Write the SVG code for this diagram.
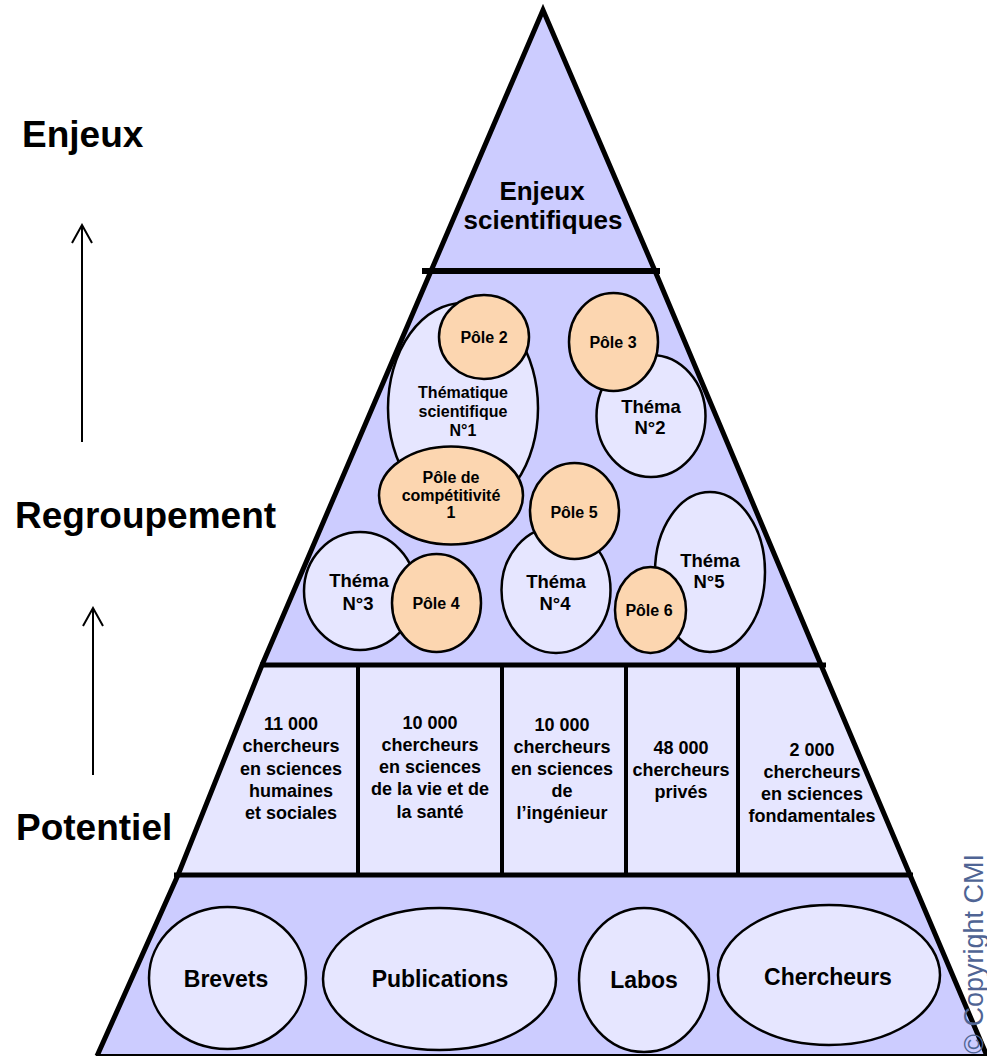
<svg xmlns="http://www.w3.org/2000/svg" width="987" height="1056" viewBox="0 0 987 1056">
  <defs>
    <style>
      text { font-family: "Liberation Sans", Arial, sans-serif; font-weight: bold; fill: #000; }
      .band { fill: #CCCCFF; }
      .cols { fill: #E6E6FF; }
      .edge { fill: none; stroke: #000; stroke-width: 5; stroke-linejoin: miter; stroke-miterlimit: 10; }
      .rule { stroke: #000; stroke-width: 5; }
      .divider { stroke: #000; stroke-width: 4; }
      .theme { fill: #E6E6FF; stroke: #000; stroke-width: 2.5; }
      .pole { fill: #FCD6B0; stroke: #000; stroke-width: 2.5; }
      .level { font-size: 37px; }
      .top { font-size: 26px; text-anchor: middle; }
      .small { font-size: 16px; text-anchor: middle; }
      .theme-t { font-size: 18.5px; text-anchor: middle; }
      .col { font-size: 18px; text-anchor: middle; }
      .asset-t { font-size: 23px; text-anchor: middle; }
      .copy { font-weight: normal; font-size: 27px; fill: #4F6494; }
      .arrow { stroke: #000; stroke-width: 2; fill: none; }
    </style>
    <marker id="open-head" viewBox="-20 -12 22 24" refX="0" refY="0" markerWidth="22" markerHeight="24" markerUnits="userSpaceOnUse" orient="auto">
      <path d="M-18,-10 L0,0 L-18,10" fill="none" stroke="#000" stroke-width="2"/>
    </marker>
  </defs>

  <rect width="987" height="1056" fill="#fff"/>

  <!-- pyramid body -->
  <g id="pyramid">
    <polygon class="band" points="543,10 431,271 262,665 178,875 97,1056 987,1056 910,875 821,665 655,271"/>
    <polygon class="cols" points="262,665 823,665 910,875 178,875"/>
    <polyline class="edge" points="97,1056 178,875 262,665 431,271 543,10 655,271 821,665 910,875 987,1056"/>
    <line x1="96" y1="1055" x2="987" y2="1055" stroke="#000" stroke-width="2"/>
    <line class="rule" x1="422" y1="271" x2="660" y2="271" style="stroke-width:6"/>
    <line class="rule" x1="260" y1="665" x2="826" y2="665"/>
    <line class="rule" x1="174" y1="875" x2="913" y2="875"/>
    <line class="divider" x1="358" y1="665" x2="358" y2="875"/>
    <line class="divider" x1="502" y1="665" x2="502" y2="875"/>
    <line class="divider" x1="626" y1="665" x2="626" y2="875"/>
    <line class="divider" x1="738" y1="665" x2="738" y2="875"/>
  </g>

  <!-- side scale -->
  <g id="level-enjeux"><text class="level" x="22" y="147">Enjeux</text></g>
  <g id="level-regroupement"><text class="level" x="15" y="528">Regroupement</text></g>
  <g id="level-potentiel"><text class="level" x="16" y="840">Potentiel</text></g>

  <g id="connectors">
    <line class="arrow" x1="82" y1="442" x2="82" y2="225" marker-end="url(#open-head)"/>
    <line class="arrow" x1="93" y1="775" x2="93" y2="608" marker-end="url(#open-head)"/>
  </g>

  <!-- apex -->
  <g id="enjeux-scientifiques">
    <text class="top" x="542" y="200">Enjeux</text>
    <text class="top" x="543" y="229">scientifiques</text>
  </g>

  <!-- grouping band -->
  <g id="thematique-1">
    <ellipse class="theme" cx="463" cy="408" rx="75" ry="105"/>
    <text class="small" x="463" y="398">Thématique</text>
    <text class="small" x="463" y="417">scientifique</text>
    <text class="small" x="463" y="436">N°1</text>
  </g>
  <g id="pole-2">
    <ellipse class="pole" cx="484" cy="337" rx="45" ry="42"/>
    <text class="small" x="484" y="343">Pôle 2</text>
  </g>
  <g id="pole-competitivite-1">
    <ellipse class="pole" cx="451" cy="495.5" rx="72" ry="49"/>
    <text class="small" x="451" y="483">Pôle de</text>
    <text class="small" x="451" y="500.5">compétitivité</text>
    <text class="small" x="451" y="518">1</text>
  </g>
  <g id="thema-2">
    <ellipse class="theme" cx="651" cy="416" rx="54.5" ry="61"/>
    <text class="theme-t" x="651" y="413">Théma</text>
    <text class="theme-t" x="650" y="434">N°2</text>
  </g>
  <g id="pole-3">
    <ellipse class="pole" cx="613.5" cy="342" rx="44.5" ry="49"/>
    <text class="small" x="613" y="348">Pôle 3</text>
  </g>
  <g id="thema-3">
    <ellipse class="theme" cx="360" cy="591" rx="56" ry="59"/>
    <text class="theme-t" x="359" y="587">Théma</text>
    <text class="theme-t" x="358" y="610">N°3</text>
  </g>
  <g id="pole-4">
    <ellipse class="pole" cx="436.5" cy="603" rx="44.5" ry="49"/>
    <text class="small" x="436" y="609">Pôle 4</text>
  </g>
  <g id="thema-4">
    <ellipse class="theme" cx="556" cy="590" rx="54.5" ry="63"/>
    <text class="theme-t" x="556" y="588">Théma</text>
    <text class="theme-t" x="555" y="610">N°4</text>
  </g>
  <g id="pole-5">
    <ellipse class="pole" cx="574.5" cy="511" rx="44.5" ry="48"/>
    <text class="small" x="574" y="518">Pôle 5</text>
  </g>
  <g id="thema-5">
    <ellipse class="theme" cx="710" cy="572" rx="55" ry="80"/>
    <text class="theme-t" x="710" y="567">Théma</text>
    <text class="theme-t" x="709" y="588">N°5</text>
  </g>
  <g id="pole-6">
    <ellipse class="pole" cx="650.5" cy="610" rx="35.5" ry="43"/>
    <text class="small" x="649" y="616">Pôle 6</text>
  </g>

  <!-- research potential columns -->
  <g id="col-shs">
    <text class="col" x="291" y="730">11 000</text>
    <text class="col" x="291" y="752">chercheurs</text>
    <text class="col" x="291" y="775">en sciences</text>
    <text class="col" x="291" y="797">humaines</text>
    <text class="col" x="291" y="819">et sociales</text>
  </g>
  <g id="col-vie-sante">
    <text class="col" x="430" y="729">10 000</text>
    <text class="col" x="430" y="751">chercheurs</text>
    <text class="col" x="430" y="773">en sciences</text>
    <text class="col" x="430" y="795">de la vie et de</text>
    <text class="col" x="430" y="818">la santé</text>
  </g>
  <g id="col-ingenieur">
    <text class="col" x="562" y="731">10 000</text>
    <text class="col" x="562" y="753">chercheurs</text>
    <text class="col" x="562" y="775">en sciences</text>
    <text class="col" x="562" y="797">de</text>
    <text class="col" x="562" y="819">l’ingénieur</text>
  </g>
  <g id="col-prives">
    <text class="col" x="681" y="754">48 000</text>
    <text class="col" x="681" y="776">chercheurs</text>
    <text class="col" x="681" y="798">privés</text>
  </g>
  <g id="col-fondamentales">
    <text class="col" x="812" y="756">2 000</text>
    <text class="col" x="812" y="778">chercheurs</text>
    <text class="col" x="812" y="800">en sciences</text>
    <text class="col" x="812" y="822">fondamentales</text>
  </g>

  <!-- base assets -->
  <g id="brevets">
    <ellipse class="theme" cx="227.5" cy="978" rx="78.5" ry="71"/>
    <text class="asset-t" x="226" y="987">Brevets</text>
  </g>
  <g id="publications">
    <ellipse class="theme" cx="439.5" cy="979" rx="116.5" ry="71"/>
    <text class="asset-t" x="440" y="987">Publications</text>
  </g>
  <g id="labos">
    <ellipse class="theme" cx="644" cy="980" rx="65" ry="72"/>
    <text class="asset-t" x="644" y="988">Labos</text>
  </g>
  <g id="chercheurs">
    <ellipse class="theme" cx="829" cy="975" rx="111" ry="70"/>
    <text class="asset-t" x="828" y="985">Chercheurs</text>
  </g>

  <text class="copy" transform="translate(983,1054) rotate(-90)">© Copyright CMI</text>
</svg>
